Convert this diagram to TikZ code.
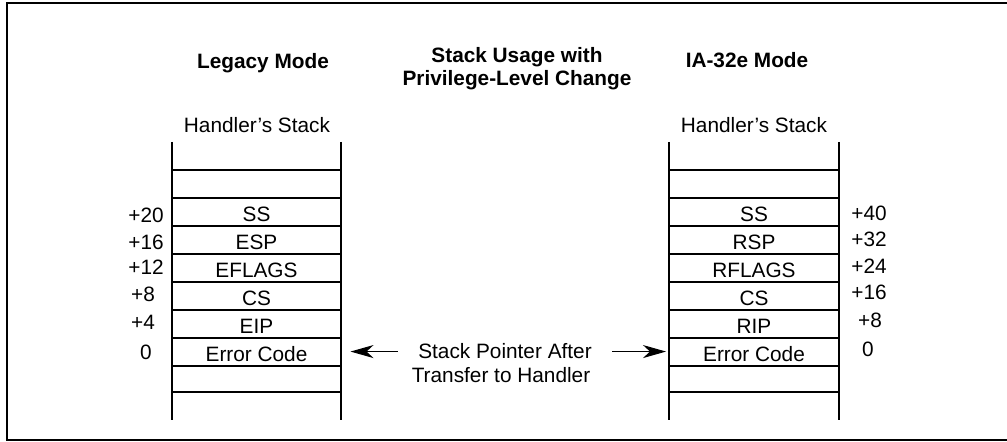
\documentclass[tikz,border=0pt]{standalone}
\usepackage{fontspec}
\setmainfont{Liberation Sans}
\usetikzlibrary{arrows.meta, positioning}

\begin{document}
\begin{tikzpicture}[
      x=0.5pt, y=-0.5pt,
      font=\fontsize{10.4pt}{12.5pt}\selectfont,
      >=Stealth,
      node distance=0pt,
      frame/.style={draw=black, line width=1pt},
      title/.style={
        font=\fontsize{10.4pt}{11.5pt}\selectfont\bfseries,
        align=center,
        anchor=base
      },
      caption/.style={anchor=base},
      wall/.style={draw=black, line width=0.9pt},
      divider/.style={draw=black, line width=0.55pt},
      cell/.style={
        minimum width=84pt,
        minimum height=14pt,
        inner sep=0pt,
        outer sep=0pt
      },
      offset/.style={inner sep=0pt},
      ptrtext/.style={inner xsep=10pt, inner ysep=0pt, anchor=base},
      ptrarrow/.style={-{Stealth[length=11.5pt, width=6.5pt, inset=3.5pt]}, draw=black, line width=0.5pt}
    ]
    \useasboundingbox (0,0) rectangle (1007,442);

    % Frame (its right side is off the page)
    \draw[frame] (1012,3) -- (7,3) -- (7,440) -- (1012,440);

    % Titles
    \node[title] (legacy) at (263,69) {Legacy Mode};
    \node[title] (usage) at (517,86) {Stack Usage with\\Privilege-Level Change};
    \node[title] (ia32e) at (747,68) {IA-32e Mode};
    \node[caption] (Lhead) at (257,133) {Handler’s Stack};
    \node[caption] (Rhead) at (754,133) {Handler’s Stack};

    % Stack walls and slot dividers
    \draw[wall] (172,142) -- (172,420);
    \draw[wall] (341,142) -- (341,420);
    \draw[wall] (669,142) -- (669,420);
    \draw[wall] (839,142) -- (839,420);
    \foreach \y in {170,198,226,254,282,310,338,366,392} {
      \draw[divider] (172,\y) -- (341,\y);
      \draw[divider] (669,\y) -- (839,\y);
    }

    % Legacy mode slots
    \node[cell] (Lss) at (256.5,214) {SS};
    \node[cell, below=of Lss] (Lesp) {ESP};
    \node[cell, below=of Lesp] (Leflags) {EFLAGS};
    \node[cell, below=of Leflags] (Lcs) {CS};
    \node[cell, below=of Lcs] (Leip) {EIP};
    \node[cell, below=of Leip] (Lerr) {Error Code};

    % IA-32e mode slots
    \node[cell] (Rss) at (754,214) {SS};
    \node[cell, below=of Rss] (Rrsp) {RSP};
    \node[cell, below=of Rrsp] (Rrflags) {RFLAGS};
    \node[cell, below=of Rrflags] (Rcs) {CS};
    \node[cell, below=of Rcs] (Rrip) {RIP};
    \node[cell, below=of Rrip] (Rerr) {Error Code};

    % Byte offsets
    \node[offset] (Loff20) at (146,215) {+20};
    \node[offset] (Loff16) at (146,242.5) {+16};
    \node[offset] (Loff12) at (146,267.5) {+12};
    \node[offset] (Loff8) at (143,294.5) {+8};
    \node[offset] (Loff4) at (143,322.5) {+4};
    \node[offset] (Loff0) at (146,352.5) {0};
    \node[offset] (Roff40) at (869,213.5) {+40};
    \node[offset] (Roff32) at (869,239.5) {+32};
    \node[offset] (Roff24) at (869,266.5) {+24};
    \node[offset] (Roff16) at (869,292.5) {+16};
    \node[offset] (Roff8) at (870,320.5) {+8};
    \node[offset] (Roff0) at (868,349.5) {0};

    % Stack pointer after the transfer
    \node[ptrtext] (ptrA) at (505,359) {Stack Pointer After};
    \node[ptrtext] (ptrB) at (501,383) {Transfer to Handler};
    \draw[ptrarrow, shorten >=5pt] (ptrA.west) -- (ptrA.west -| Lerr.east);
    \draw[ptrarrow, shorten >=2pt] (ptrA.east) -- (ptrA.east -| Rerr.west);

  \end{tikzpicture}
\end{document}
